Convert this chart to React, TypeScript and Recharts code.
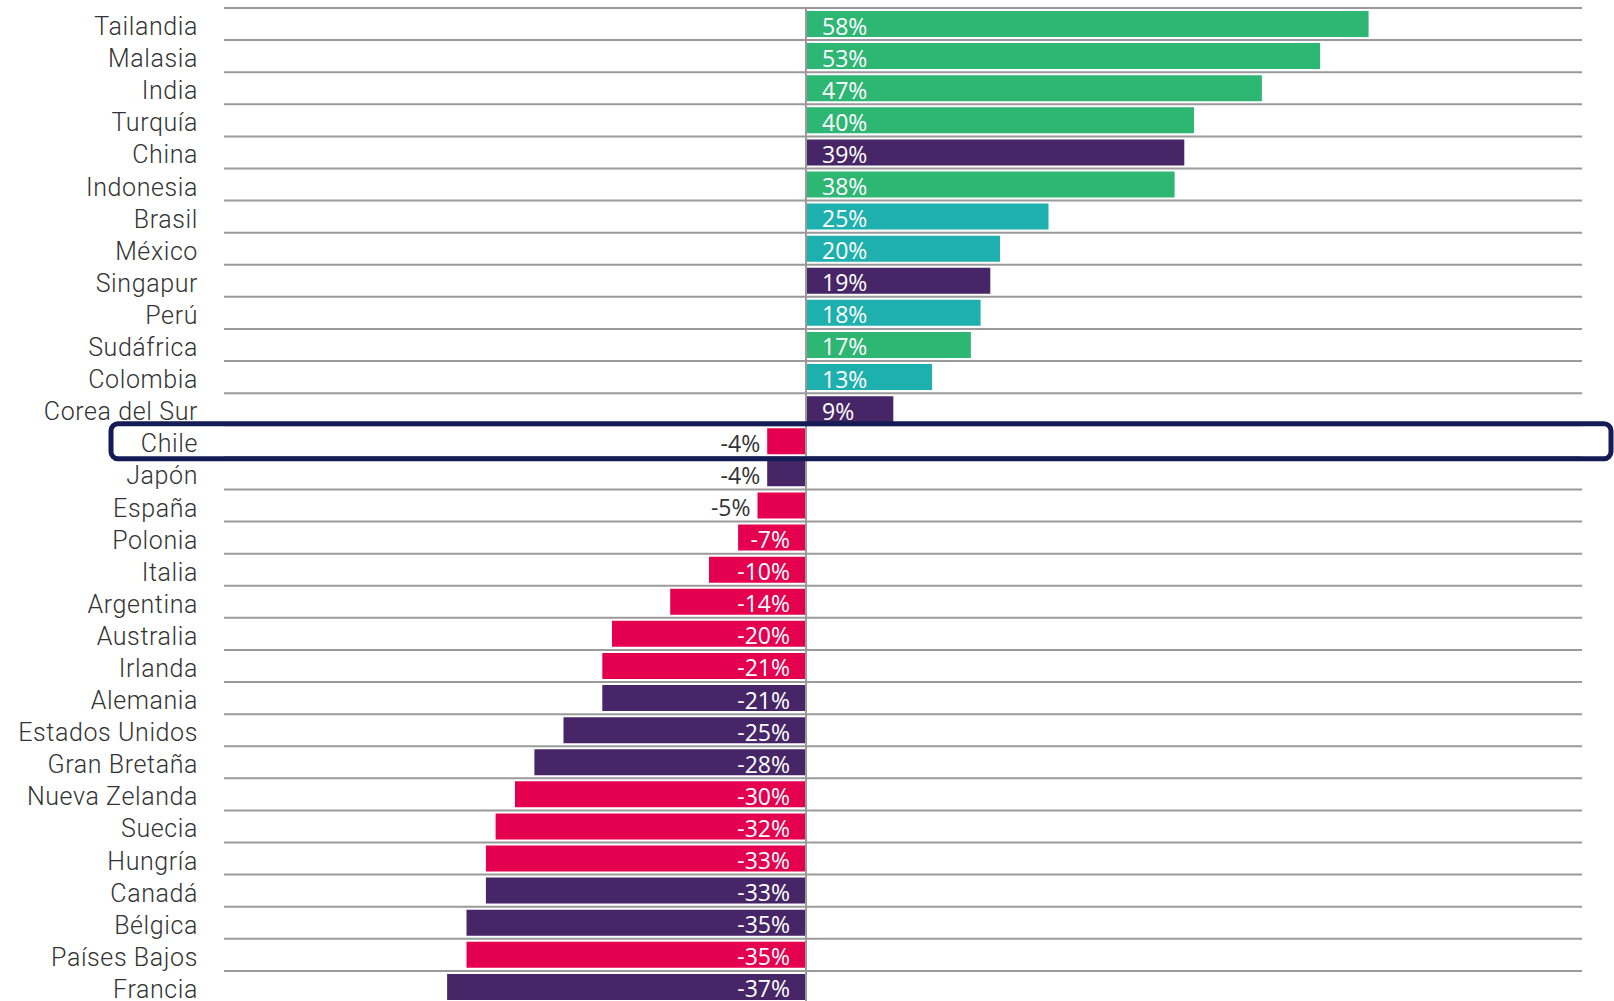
import React from 'react';
import { BarChart, Bar, XAxis, YAxis, Cell, LabelList, ReferenceLine, ReferenceArea, CartesianGrid } from 'recharts';

const paises = [
  'Tailandia', 'Malasia', 'India', 'Turquía', 'China', 'Indonesia', 'Brasil', 'México',
  'Singapur', 'Perú', 'Sudáfrica', 'Colombia', 'Corea del Sur', 'Chile', 'Japón', 'España',
  'Polonia', 'Italia', 'Argentina', 'Australia', 'Irlanda', 'Alemania', 'Estados Unidos',
  'Gran Bretaña', 'Nueva Zelanda', 'Suecia', 'Hungría', 'Canadá', 'Bélgica', 'Países Bajos', 'Francia',
];

const variacion = [
  58, 53, 47, 40, 39, 38, 25, 20, 19, 18, 17, 13, 9, -4, -4, -5,
  -7, -10, -14, -20, -21, -21, -25, -28, -30, -32, -33, -33, -35, -35, -37,
];

const grupo = [
  'verde', 'verde', 'verde', 'verde', 'morado', 'verde', 'turquesa', 'turquesa',
  'morado', 'turquesa', 'verde', 'turquesa', 'morado', 'rosa', 'morado', 'rosa',
  'rosa', 'rosa', 'rosa', 'rosa', 'rosa', 'morado', 'morado',
  'morado', 'rosa', 'rosa', 'rosa', 'morado', 'morado', 'rosa', 'morado',
];

const destacado = 'Chile';

const colores: Record<string, string> = {
  verde: '#2eb673',
  turquesa: '#1eb0ae',
  morado: '#472667',
  rosa: '#e5004f',
};

const data = paises.map((pais, i) => ({ pais, valor: variacion[i], grupo: grupo[i] }));

const AXIS_FONT = 'Roboto, "DejaVu Sans", sans-serif';
const LABEL_FONT = '"Open Sans", "DejaVu Sans", sans-serif';

const PaisTick = (props: any) => {
  const { x, y, payload } = props;
  return (
    <text x={x} y={y + 11} textAnchor="end" fill="#333" fontSize={25} fontWeight={300}
      letterSpacing={0.6} fontFamily={AXIS_FONT}>
      {payload.value}
    </text>
  );
};

const ValorLabel = (props: any) => {
  const { x, y, width, height, value } = props;
  const left = Math.min(x, x + width);
  const right = Math.max(x, x + width);
  const cy = y + height / 2 + 10.5;
  const txt = `${value}%`;
  if (value >= 0) {
    return (
      <text x={left + 16} y={cy} fill="#fff" fontSize={23} fontFamily={LABEL_FONT}>{txt}</text>
    );
  }
  if (value > -6) {
    return (
      <text x={left - 7} y={cy} textAnchor="end" fill="#333" fontSize={23} fontFamily={LABEL_FONT}>{txt}</text>
    );
  }
  return (
    <text x={right - 16} y={cy} textAnchor="end" fill="#fff" fontSize={23} fontFamily={LABEL_FONT}>{txt}</text>
  );
};

const Recuadro = (props: any) => {
  const { y, height } = props;
  return (
    <rect x={111} y={y - 1.5} width={1500} height={height + 3} rx={7} ry={7}
      fill="none" stroke="#151b54" strokeWidth={5} />
  );
};

// lineas entre filas: limites de cada banda de categoria
const lineasFila = ({ offset }: any) =>
  Array.from({ length: paises.length + 1 }, (_, i) => offset.top + (i * offset.height) / paises.length);

export default function App() {
  return (
    <div style={{ position: 'absolute', left: 0, top: 0, background: '#fff' }}>
      <BarChart
        layout="vertical"
        width={1614}
        height={1012}
        data={data}
        margin={{ top: 8, right: 32, bottom: 9, left: 0 }}
        barSize={26}
      >
        <CartesianGrid vertical={false} stroke="#9a9a9a" strokeWidth={2}
          horizontalCoordinatesGenerator={lineasFila} />
        <XAxis type="number" domain={[-60, 80]} hide />
        <YAxis
          dataKey="pais"
          type="category"
          width={224}
          tickLine={false}
          axisLine={false}
          tickSize={0}
          tickMargin={26}
          interval={0}
          tick={<PaisTick />}
        />
        <Bar dataKey="valor" isAnimationActive={false}>
          {data.map((d) => (
            <Cell key={d.pais} fill={colores[d.grupo]} />
          ))}
          <LabelList dataKey="valor" content={<ValorLabel />} />
        </Bar>
        <ReferenceLine x={0} stroke="#9a9a9a" strokeWidth={2} />
        <ReferenceArea y1={destacado} y2={destacado} ifOverflow="visible" shape={<Recuadro />} zIndex={1000} />
      </BarChart>
    </div>
  );
}
